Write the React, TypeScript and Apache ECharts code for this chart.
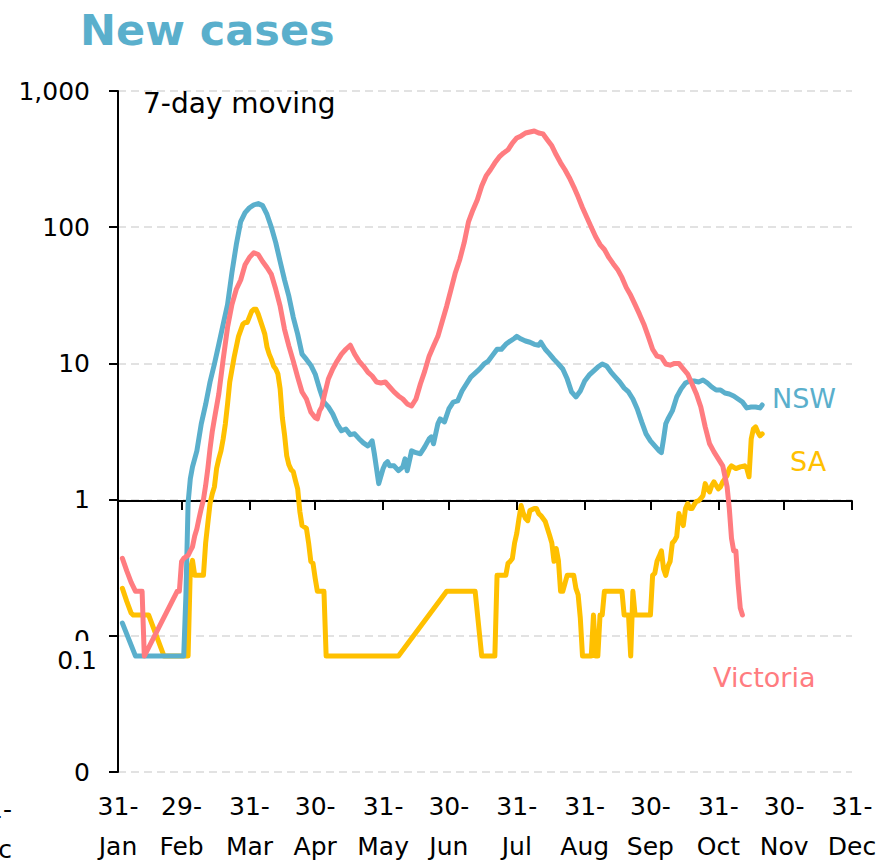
import React, { useEffect, useRef } from "react";
import * as echarts from "echarts";

// ---- axis categories / tick labels ----
const monthEnds = ["01-31", "02-29", "03-31", "04-30", "05-31", "06-30", "07-31", "08-31", "09-30", "10-31", "11-30", "12-31"];
const monthNames = ["Jan", "Feb", "Mar", "Apr", "May", "Jun", "Jul", "Aug", "Sep", "Oct", "Nov", "Dec"];
const yTickValues = [0.01, 0.1, 1, 10, 100, 1000];
const yTickLabels = ["0", "", "1", "10", "100", "1,000"];

// ---- series values (7-day moving average, date MM-DD, value) ----
const nsw: [string, number][] = [
  ["02-02", 0.124], ["02-08", 0.071], ["03-01", 0.071], ["03-02", 0.2], ["03-03", 0.95], ["03-04", 1.42], ["03-05", 1.74],
  ["03-07", 2.28], ["03-09", 3.6], ["03-11", 5.0], ["03-13", 7.3], ["03-15", 9.9], ["03-17", 13.8], ["03-19", 19.4],
  ["03-21", 27], ["03-23", 46.5], ["03-25", 74.6], ["03-27", 110], ["03-29", 128], ["03-31", 139], ["04-02", 146],
  ["04-04", 149], ["04-06", 144], ["04-08", 124], ["04-10", 100], ["04-12", 77], ["04-14", 56], ["04-16", 41],
  ["04-18", 31], ["04-20", 21.8], ["04-22", 16.4], ["04-24", 11.7], ["04-26", 10.7], ["04-28", 9.7], ["04-30", 8.35],
  ["05-02", 6.5], ["05-04", 5.2], ["05-06", 4.79], ["05-08", 4.26], ["05-10", 3.6], ["05-12", 3.2], ["05-14", 3.3],
  ["05-16", 3.0], ["05-18", 3.04], ["05-20", 2.8], ["05-22", 2.61], ["05-24", 2.48], ["05-25", 2.57], ["05-26", 2.7],
  ["05-27", 2.17], ["05-28", 1.69], ["05-29", 1.31], ["05-31", 1.69], ["06-01", 1.83], ["06-02", 1.9], ["06-03", 1.77],
  ["06-05", 1.77], ["06-07", 1.63], ["06-09", 1.74], ["06-10", 1.99], ["06-11", 1.63], ["06-13", 2.28], ["06-15", 2.21],
  ["06-17", 2.17], ["06-19", 2.44], ["06-21", 2.79], ["06-22", 2.89], ["06-23", 2.57], ["06-25", 3.6], ["06-26", 3.91],
  ["06-28", 3.72], ["06-30", 4.63], ["07-02", 5.2], ["07-04", 5.3], ["07-06", 6.27], ["07-08", 7.06], ["07-10", 7.94],
  ["07-12", 8.49], ["07-14", 9.08], ["07-16", 9.89], ["07-18", 10.4], ["07-20", 11.5], ["07-22", 12.7], ["07-24", 12.7],
  ["07-26", 13.8], ["07-28", 14.6], ["07-30", 15.3], ["07-31", 15.8], ["08-02", 15.1], ["08-04", 14.6], ["08-06", 14.3],
  ["08-08", 13.8], ["08-10", 13.6], ["08-11", 14.3], ["08-13", 12.7], ["08-15", 11.7], ["08-17", 10.7], ["08-19", 9.9],
  ["08-21", 9.1], ["08-23", 7.7], ["08-25", 6.17], ["08-27", 5.67], ["08-29", 6.27], ["08-31", 7.42], ["09-02", 8.2],
  ["09-04", 8.78], ["09-06", 9.4], ["09-08", 9.9], ["09-10", 9.56], ["09-12", 8.64], ["09-14", 7.94], ["09-16", 7.3],
  ["09-18", 6.6], ["09-20", 6.17], ["09-22", 5.48], ["09-24", 4.63], ["09-26", 3.72], ["09-28", 3.04], ["09-30", 2.7],
  ["10-02", 2.48], ["10-04", 2.28], ["10-05", 2.21], ["10-06", 2.79], ["10-07", 3.6], ["10-08", 3.91], ["10-10", 4.48],
  ["10-12", 5.67], ["10-14", 6.5], ["10-16", 7.18], ["10-18", 7.42], ["10-20", 7.42], ["10-22", 7.3], ["10-24", 7.55],
  ["10-26", 7.18], ["10-28", 6.71], ["10-30", 6.38], ["11-01", 6.38], ["11-03", 6.06], ["11-05", 5.96], ["11-07", 5.77],
  ["11-09", 5.48], ["11-11", 5.2], ["11-13", 4.71], ["11-15", 4.79], ["11-17", 4.79], ["11-19", 4.71], ["11-20", 4.95],
];

const victoria: [string, number][] = [
  ["02-02", 0.37], ["02-04", 0.3], ["02-06", 0.247], ["02-08", 0.212], ["02-11", 0.212], ["02-12", 0.071], ["02-27", 0.212],
  ["02-28", 0.212], ["02-29", 0.35], ["03-01", 0.37], ["03-03", 0.39], ["03-04", 0.42], ["03-05", 0.45], ["03-06", 0.54],
  ["03-07", 0.61], ["03-08", 0.73], ["03-09", 0.86], ["03-10", 1.0], ["03-11", 1.27], ["03-12", 1.69], ["03-13", 2.36],
  ["03-14", 3.14], ["03-15", 3.91], ["03-17", 5.96], ["03-19", 10.7], ["03-21", 18.4], ["03-23", 27], ["03-25", 35],
  ["03-27", 41], ["03-29", 53], ["03-31", 60], ["04-02", 65], ["04-04", 63], ["04-06", 56], ["04-08", 50.6], ["04-10", 45],
  ["04-12", 35], ["04-14", 26.3], ["04-16", 17.8], ["04-18", 13.4], ["04-20", 10.4], ["04-22", 7.94], ["04-24", 6.17],
  ["04-26", 5.48], ["04-28", 4.4], ["04-30", 4.0], ["05-01", 3.91], ["05-02", 4.48], ["05-03", 4.79], ["05-04", 5.67],
  ["05-06", 7.68], ["05-08", 9.1], ["05-10", 10.4], ["05-12", 11.7], ["05-14", 12.7], ["05-16", 13.6], ["05-18", 11.7],
  ["05-20", 10.4], ["05-22", 9.56], ["05-24", 8.64], ["05-26", 8.08], ["05-28", 7.3], ["05-30", 7.18], ["06-01", 7.3],
  ["06-03", 6.71], ["06-05", 6.17], ["06-07", 5.77], ["06-09", 5.48], ["06-11", 5.04], ["06-13", 4.87], ["06-15", 5.48],
  ["06-17", 7.06], ["06-19", 8.78], ["06-21", 11.3], ["06-23", 13.4], ["06-25", 15.8], ["06-27", 20.4], ["06-29", 26.3],
  ["07-01", 35], ["07-03", 46.5], ["07-05", 58], ["07-07", 77], ["07-09", 110], ["07-11", 134], ["07-13", 159],
  ["07-15", 201], ["07-17", 238], ["07-19", 264], ["07-21", 297], ["07-23", 328], ["07-25", 351], ["07-27", 370],
  ["07-29", 415], ["07-31", 452], ["08-02", 468], ["08-04", 492], ["08-06", 500], ["08-08", 509], ["08-10", 492],
  ["08-12", 484], ["08-14", 437], ["08-16", 396], ["08-18", 340], ["08-20", 297], ["08-22", 264], ["08-24", 231],
  ["08-26", 198], ["08-28", 167], ["08-30", 139], ["09-01", 118], ["09-03", 100], ["09-05", 85], ["09-07", 74.6],
  ["09-09", 68.6], ["09-11", 60], ["09-13", 54], ["09-15", 49], ["09-17", 42.8], ["09-19", 36], ["09-21", 31.6],
  ["09-23", 27], ["09-25", 23], ["09-27", 19.4], ["09-29", 15.8], ["10-01", 12.7], ["10-03", 11.3], ["10-05", 11.1],
  ["10-07", 9.9], ["10-09", 9.7], ["10-11", 10.0], ["10-13", 10.0], ["10-15", 9.1], ["10-17", 8.35], ["10-19", 7.06],
  ["10-21", 5.96], ["10-23", 4.79], ["10-25", 3.42], ["10-27", 2.57], ["10-29", 2.24], ["10-31", 1.99], ["11-02", 1.77],
  ["11-04", 1.24], ["11-05", 0.86], ["11-06", 0.52], ["11-07", 0.42], ["11-08", 0.42], ["11-09", 0.243], ["11-10", 0.16],
  ["11-11", 0.142],
];

const sa: [string, number][] = [
  ["02-02", 0.223], ["02-04", 0.179], ["02-06", 0.147], ["02-07", 0.142], ["02-14", 0.142], ["02-21", 0.071], ["03-03", 0.071],
  ["03-04", 0.31], ["03-05", 0.358], ["03-06", 0.278], ["03-10", 0.278], ["03-11", 0.48], ["03-12", 0.67], ["03-13", 0.935],
  ["03-14", 1.1], ["03-15", 1.24], ["03-16", 1.69], ["03-17", 1.99], ["03-18", 2.28], ["03-19", 2.79], ["03-20", 3.6],
  ["03-21", 5.04], ["03-22", 7.3], ["03-24", 11.1], ["03-26", 15.8], ["03-28", 19.4], ["03-29", 20], ["03-30", 20],
  ["04-01", 24.1], ["04-02", 25], ["04-03", 25], ["04-04", 23], ["04-06", 18.4], ["04-07", 16.4], ["04-08", 13.2],
  ["04-09", 11.7], ["04-10", 10.7], ["04-11", 9.56], ["04-12", 9.1], ["04-13", 8.35], ["04-14", 6.5], ["04-15", 4.0],
  ["04-16", 3.0], ["04-17", 2.1], ["04-18", 1.8], ["04-19", 1.66], ["04-20", 1.6], ["04-21", 1.38], ["04-22", 1.2],
  ["04-23", 0.817], ["04-24", 0.645], ["04-26", 0.614], ["04-27", 0.48], ["04-28", 0.352], ["04-29", 0.34], ["04-30", 0.264],
  ["05-01", 0.212], ["05-04", 0.212], ["05-05", 0.071], ["06-07", 0.071], ["06-29", 0.212], ["07-12", 0.212], ["07-15", 0.071],
  ["07-21", 0.071], ["07-22", 0.278], ["07-26", 0.278], ["07-27", 0.34], ["07-28", 0.352], ["07-29", 0.37], ["07-30", 0.48],
  ["07-31", 0.565], ["08-01", 0.726], ["08-02", 0.904], ["08-03", 0.79], ["08-04", 0.726], ["08-05", 0.7], ["08-06", 0.83],
  ["08-08", 0.86], ["08-09", 0.86], ["08-10", 0.79], ["08-11", 0.764], ["08-12", 0.726], ["08-13", 0.69], ["08-14", 0.614],
  ["08-15", 0.545], ["08-16", 0.48], ["08-17", 0.352], ["08-18", 0.438], ["08-19", 0.358], ["08-20", 0.212], ["08-21", 0.212],
  ["08-22", 0.243], ["08-23", 0.278], ["08-26", 0.278], ["08-27", 0.223], ["08-28", 0.2], ["08-29", 0.135], ["08-30", 0.071],
  ["09-03", 0.071], ["09-04", 0.142], ["09-05", 0.071], ["09-06", 0.071], ["09-07", 0.142], ["09-08", 0.142], ["09-09", 0.212],
  ["09-17", 0.212], ["09-18", 0.142], ["09-20", 0.142], ["09-21", 0.071], ["09-22", 0.212], ["09-23", 0.142], ["09-30", 0.142],
  ["10-01", 0.278], ["10-02", 0.288], ["10-03", 0.352], ["10-04", 0.383], ["10-05", 0.42], ["10-06", 0.31], ["10-07", 0.278],
  ["10-08", 0.324], ["10-09", 0.352], ["10-10", 0.48], ["10-11", 0.5], ["10-12", 0.536], ["10-13", 0.79], ["10-14", 0.7],
  ["10-15", 0.645], ["10-16", 0.86], ["10-17", 0.935], ["10-18", 0.86], ["10-19", 0.86], ["10-20", 0.92], ["10-21", 0.97],
  ["10-22", 0.98], ["10-23", 1.02], ["10-24", 1.07], ["10-25", 1.31], ["10-26", 1.2], ["10-27", 1.14], ["10-28", 1.27],
  ["10-29", 1.35], ["10-30", 1.27], ["10-31", 1.2], ["11-01", 1.24], ["11-02", 1.35], ["11-04", 1.5], ["11-05", 1.69],
  ["11-06", 1.77], ["11-08", 1.69], ["11-10", 1.74], ["11-12", 1.77], ["11-13", 1.69], ["11-14", 1.47], ["11-15", 2.79],
  ["11-16", 3.31], ["11-17", 3.42], ["11-18", 3.14], ["11-19", 2.94], ["11-20", 3.04],
];

const NSW_COLOR = "#5AAFCC";
const VIC_COLOR = "#FF7C80";
const SA_COLOR = "#FFC000";
const FONT = "'DejaVu Sans', sans-serif";

function buildCategories(): string[] {
  const out: string[] = [];
  const start = Date.UTC(2020, 0, 31);
  const end = Date.UTC(2020, 11, 31);
  for (let t = start; t <= end; t += 86400000) {
    const d = new Date(t);
    const mm = String(d.getUTCMonth() + 1).padStart(2, "0");
    const dd = String(d.getUTCDate()).padStart(2, "0");
    out.push(`${mm}-${dd}`);
  }
  return out;
}

export default function App() {
  const ref = useRef<HTMLDivElement>(null);

  useEffect(() => {
    if (!ref.current) return;
    const chart = echarts.init(ref.current, undefined, { renderer: "svg" });
    const categories = buildCategories();
    const idx: Record<string, number> = {};
    categories.forEach((c, i) => (idx[c] = i));
    const endSet = new Set(monthEnds);
    const labelOf: Record<string, string> = {};
    monthEnds.forEach((m, i) => (labelOf[m] = `${m.slice(3)}-\n${monthNames[i]}`));
    const toData = (pts: [string, number][]) => pts.map(([d, v]) => [idx[d], v]);
    const isEnd = (_i: number, v: string) => endSet.has(v);

    const yLabel = (v: number) => {
      const e = Math.round(Math.log10(v));
      const k = yTickValues.findIndex((t) => Math.round(Math.log10(t)) === e);
      return k >= 0 ? yTickLabels[k] : "";
    };

    const mkSeries = (name: string, pts: [string, number][], color: string) => ({
      name,
      type: "line",
      xAxisIndex: 0,
      yAxisIndex: 0,
      data: toData(pts),
      showSymbol: false,
      connectNulls: true,
      lineStyle: { color, width: 5, cap: "round", join: "round" },
      itemStyle: { color },
      silent: true,
    });

    chart.setOption({
      animation: false,
      backgroundColor: "#ffffff",
      grid: [
        { left: 118, right: 32, top: 91, bottom: 91 },
        { left: 118, right: 32, top: 91, height: 410 },
      ],
      xAxis: [
        {
          type: "category",
          gridIndex: 0,
          data: categories,
          boundaryGap: false,
          axisLine: { show: false },
          axisTick: { show: false },
          splitLine: { show: false },
          axisLabel: {
            interval: isEnd,
            formatter: (v: string) => labelOf[v] || "",
            fontSize: 25,
            lineHeight: 40,
            color: "#000",
            margin: 14,
            fontFamily: FONT,
          },
        },
        {
          type: "category",
          gridIndex: 1,
          data: categories,
          boundaryGap: false,
          position: "bottom",
          axisLine: { show: true, lineStyle: { color: "#000", width: 2 } },
          axisTick: { show: true, interval: isEnd, length: 9, lineStyle: { color: "#000", width: 2 } },
          axisLabel: { show: false },
          splitLine: { show: false },
        },
      ],
      yAxis: [
        {
          type: "log",
          logBase: 10,
          gridIndex: 0,
          min: 0.01,
          max: 1000,
          splitNumber: 5,
          axisLine: { show: true, lineStyle: { color: "#000", width: 2 } },
          axisTick: { show: true, length: 9, lineStyle: { color: "#000", width: 2 } },
          axisLabel: { formatter: yLabel, fontSize: 25, color: "#000", margin: 28, fontFamily: FONT },
          splitLine: { show: true, lineStyle: { color: "#d9d9d9", type: [8, 5], width: 1.5 } },
        },
        { type: "value", gridIndex: 1, show: false },
      ],
      series: [mkSeries("SA", sa, SA_COLOR), mkSeries("NSW", nsw, NSW_COLOR), mkSeries("Victoria", victoria, VIC_COLOR)],
      graphic: [
        {
          type: "text",
          z: 10,
          style: { x: 80, y: 30, text: "New cases", fill: "#5AAFCC", fontSize: 43, fontWeight: "bold", fontFamily: FONT, verticalAlign: "middle" },
        },
        {
          type: "text",
          z: 10,
          style: { x: 143, y: 103, text: "7-day moving", fill: "#000", fontSize: 28, fontFamily: FONT, verticalAlign: "middle" },
        },
        {
          type: "text",
          z: 10,
          style: { x: 772, y: 398, text: "NSW", fill: NSW_COLOR, fontSize: 27, fontFamily: FONT, verticalAlign: "middle" },
        },
        {
          type: "text",
          z: 10,
          style: { x: 790, y: 461, text: "SA", fill: SA_COLOR, fontSize: 27, fontFamily: FONT, verticalAlign: "middle" },
        },
        {
          type: "text",
          z: 10,
          style: { x: 713, y: 677, text: "Victoria", fill: VIC_COLOR, fontSize: 27, fontFamily: FONT, verticalAlign: "middle" },
        },
        {
          type: "text",
          z: 10,
          style: { x: 90, y: 639, text: "0", fill: "#000", fontSize: 25, fontFamily: FONT, align: "right", verticalAlign: "middle" },
        },
        { type: "rect", z: 11, shape: { x: 55, y: 641, width: 50, height: 9 }, style: { fill: "#fff" } },
        {
          type: "text",
          z: 12,
          style: { x: 97, y: 660, text: "0.1", fill: "#000", fontSize: 25, fontFamily: FONT, align: "right", verticalAlign: "middle" },
        },
        {
          type: "text",
          z: 10,
          style: { x: 12, y: 809, text: "31-", fill: "#000", fontSize: 25, fontFamily: FONT, align: "right", verticalAlign: "middle" },
        },
        {
          type: "text",
          z: 10,
          style: { x: 12, y: 849, text: "Dec", fill: "#000", fontSize: 25, fontFamily: FONT, align: "right", verticalAlign: "middle" },
        },
      ],
    });
    return () => chart.dispose();
  }, []);

  return <div ref={ref} style={{ position: "fixed", left: 0, top: 0, width: 884, height: 866 }} />;
}
